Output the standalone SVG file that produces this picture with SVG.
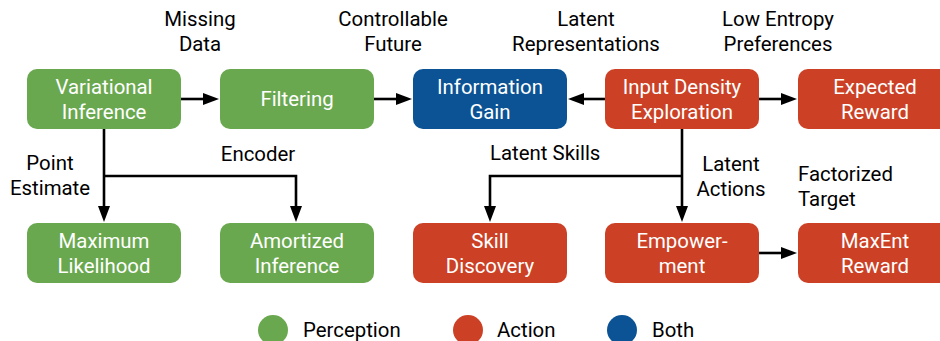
<svg xmlns="http://www.w3.org/2000/svg" width="940" height="341" viewBox="0 0 940 341">
<defs>
<style>
text{font-family:Roboto,"Liberation Sans",sans-serif;font-size:20.4px}
.node text{fill:#ffffff;text-anchor:middle}
.lbl{fill:#000000}
.c{text-anchor:middle}
.g rect{fill:#6aa84f}
.r rect{fill:#cc4125}
.b rect{fill:#0b5394}
.edge{fill:none;stroke:#000000;stroke-width:2.6;marker-end:url(#ah)}
</style>
<marker id="ah" viewBox="0 0 16 12" refX="6" refY="6" markerWidth="16" markerHeight="12" markerUnits="userSpaceOnUse" orient="auto">
<path d="M0,0 L16,6 L0,12 z" fill="#000000"/>
</marker>
</defs>
<rect width="940" height="341" fill="#ffffff"/>

<g id="connectors">
<path class="edge" d="M181,99 H209"/>
<path class="edge" d="M373,99 H402"/>
<path class="edge" d="M605,99 H578"/>
<path class="edge" d="M759,99 H787"/>
<path class="edge" d="M104,129 V212"/>
<path class="edge" d="M104,176 H296 V212"/>
<path class="edge" d="M682,129 V212"/>
<path class="edge" d="M682,176 H490 V212"/>
<path class="edge" d="M759,253 H787"/>
</g>

<g id="edge-labels" class="lbl">
<text class="c" x="200" y="26">Missing</text>
<text class="c" x="200" y="51">Data</text>
<text class="c" x="393" y="26">Controllable</text>
<text class="c" x="393" y="51">Future</text>
<text class="c" x="586" y="26">Latent</text>
<text class="c" x="586" y="51">Representations</text>
<text class="c" x="778" y="26">Low Entropy</text>
<text class="c" x="778" y="51">Preferences</text>
<text class="c" x="50" y="170">Point</text>
<text class="c" x="50" y="195">Estimate</text>
<text class="c" x="258" y="161">Encoder</text>
<text x="490" y="160">Latent Skills</text>
<text class="c" x="731" y="171">Latent</text>
<text class="c" x="731" y="196">Actions</text>
<text x="798" y="181">Factorized</text>
<text x="798" y="206">Target</text>
</g>

<g id="variational-inference" class="node g">
<rect x="27" y="69" width="154" height="60" rx="10"/>
<text x="104" y="94">Variational</text>
<text x="104" y="119">Inference</text>
</g>
<g id="filtering" class="node g">
<rect x="220" y="69" width="154" height="60" rx="10"/>
<text x="297" y="106">Filtering</text>
</g>
<g id="information-gain" class="node b">
<rect x="413" y="69" width="154" height="60" rx="10"/>
<text x="490" y="94">Information</text>
<text x="490" y="119">Gain</text>
</g>
<g id="input-density-exploration" class="node r">
<rect x="605" y="69" width="154" height="60" rx="10"/>
<text x="682" y="94">Input Density</text>
<text x="682" y="119">Exploration</text>
</g>
<g id="expected-reward" class="node r">
<rect x="798" y="69" width="154" height="60" rx="10"/>
<text x="875" y="94">Expected</text>
<text x="875" y="119">Reward</text>
</g>

<g id="maximum-likelihood" class="node g">
<rect x="27" y="223" width="154" height="60" rx="10"/>
<text x="104" y="248">Maximum</text>
<text x="104" y="273">Likelihood</text>
</g>
<g id="amortized-inference" class="node g">
<rect x="220" y="223" width="154" height="60" rx="10"/>
<text x="297" y="248">Amortized</text>
<text x="297" y="273">Inference</text>
</g>
<g id="skill-discovery" class="node r">
<rect x="413" y="223" width="154" height="60" rx="10"/>
<text x="490" y="248">Skill</text>
<text x="490" y="273">Discovery</text>
</g>
<g id="empowerment" class="node r">
<rect x="605" y="223" width="154" height="60" rx="10"/>
<text x="682" y="248">Empower-</text>
<text x="682" y="273">ment</text>
</g>
<g id="maxent-reward" class="node r">
<rect x="798" y="223" width="154" height="60" rx="10"/>
<text x="875" y="248">MaxEnt</text>
<text x="875" y="273">Reward</text>
</g>

<g id="legend" class="lbl">
<circle cx="273" cy="330" r="15" fill="#6aa84f"/>
<text x="303" y="337">Perception</text>
<circle cx="468" cy="330" r="15" fill="#cc4125"/>
<text x="497" y="337">Action</text>
<circle cx="622" cy="330" r="15" fill="#0b5394"/>
<text x="652" y="337">Both</text>
</g>
</svg>
